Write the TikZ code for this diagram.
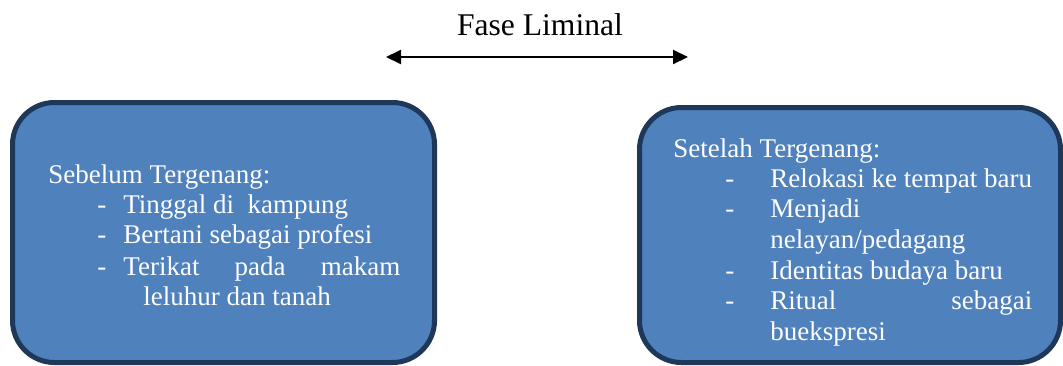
\documentclass[tikz,border=0pt]{standalone}
\usepackage{fontspec}
\setmainfont{Liberation Serif}
\usetikzlibrary{positioning, arrows.meta}
\definecolor{boxblue}{RGB}{79,129,189}
\definecolor{boxline}{RGB}{31,56,90}
\tikzset{
  phase/.style={draw=boxline, fill=boxblue, line width=2.5pt, rounded corners=21pt},
  line/.style={anchor=base west, inner sep=0pt, text=white, font=\fontsize{13.5}{15}\selectfont},
}

\begin{document}
\begin{tikzpicture}[x=0.5pt, y=-0.5pt]
                \useasboundingbox (0,0) rectangle (1063,365);
                % title and arrow
                \node[anchor=base, inner sep=0pt, font=\fontsize{15.8}{18}\selectfont] (title) at (540,35) {Fase Liminal};
                \coordinate (lft) at (386,57);
                \coordinate (rgt) at (688,57);
                \draw[{Triangle[length=7.5pt,width=7pt]}-{Triangle[length=7.5pt,width=7pt]}, line width=1pt] (lft) -- (rgt);
                % boxes
                \node[phase, minimum width=211pt, minimum height=130pt] (before) at (223.5,232.5) {};
                \node[phase, minimum width=210.5pt, minimum height=127.5pt] (after) at (850,235) {};
                % left text
                \node[line] (bhead) at (48,183) {Sebelum Tergenang:};
                \node[line] (bd1) at (97,213) {-};
                \node[line] (bd2) at (97,243) {-};
                \node[line] (bd3) at (97,275) {-};
                \node[line] (b1) at (123,213) {Tinggal di\ \ kampung};
                \node[line] (b2) at (123,243) {Bertani sebagai profesi};
                \node[line] (b3) at (123,275) {\makebox[138.5pt][s]{Terikat pada makam}};
                \node[line] (b3b) at (143,305) {leluhur dan tanah};
                % right text
                \node[line] (ahead) at (673,157) {Setelah Tergenang:};
                \node[line] (ad1) at (725,187) {-};
                \node[line] (ad2) at (725,217) {-};
                \node[line] (ad3) at (725,279) {-};
                \node[line] (ad4) at (725,309) {-};
                \node[line] (a1) at (770,187) {Relokasi ke tempat baru};
                \node[line] (a2) at (770,217) {Menjadi};
                \node[line] (a2b) at (770,248) {nelayan/pedagang};
                \node[line] (a3) at (770,279) {Identitas budaya baru};
                \node[line] (a4) at (770,309) {\makebox[131pt][s]{Ritual sebagai}};
                \node[line] (a4b) at (770,340) {buekspresi};
            \end{tikzpicture}
\end{document}
